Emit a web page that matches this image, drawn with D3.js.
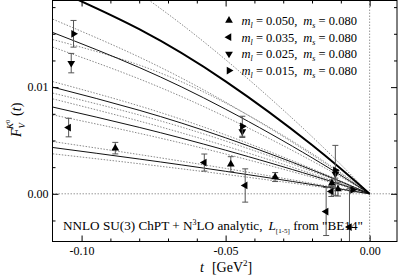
<!DOCTYPE html>
<html>
<head>
<meta charset="utf-8">
<script src="https://cdn.jsdelivr.net/npm/d3@7"></script>
<style>
  body { margin: 0; background: #fff; }
  svg { display: block; font-family: "Liberation Serif", "Times New Roman", serif; }
</style>
</head>
<body>
<svg id="chart" width="399" height="275"></svg>
<script>
const tGrid = [-0.11, -0.08, -0.05, -0.02, 0];

// physical point (thick) with its band
const physMid = [0.01925, 0.01543, 0.01054, 0.00457, 0];
const physHi  = [0.02404, 0.01879, 0.01257, 0.00536, 0];
const physLo  = [0.01446, 0.01207, 0.00851, 0.00378, 0];

// m_l = 0.015
const fit015Mid = [0.01512, 0.01184, 0.00793, 0.00338, 0];
const fit015Hi  = [0.01637, 0.01282, 0.00859, 0.00366, 0];
const fit015Lo  = [0.01375, 0.01077, 0.00721, 0.00308, 0];
// m_l = 0.025
const fit025Mid = [0.01000, 0.00783, 0.00525, 0.00224, 0];
const fit025Hi  = [0.01052, 0.00824, 0.00552, 0.00235, 0];
const fit025Lo  = [0.00944, 0.00739, 0.00495, 0.00211, 0];
// m_l = 0.035
const fit035Mid = [0.00813, 0.00623, 0.00409, 0.00172, 0];
const fit035Hi  = [0.00890, 0.00682, 0.00448, 0.00188, 0];
const fit035Lo  = [0.00740, 0.00567, 0.00373, 0.00156, 0];
// m_l = 0.050
const fit050Mid = [0.00434, 0.00326, 0.00211, 0.00087, 0];
const fit050Hi  = [0.00490, 0.00368, 0.00238, 0.00098, 0];
const fit050Lo  = [0.00375, 0.00282, 0.00182, 0.00075, 0];

// lattice data: t, F, error
const t050 = [-0.0883, -0.0482, -0.0328, -0.0131, -0.0110];
const f050 = [0.00428, 0.00278, 0.00157, 0.00100, 0.00044];
const e050 = [0.00054, 0.00070, 0.00042, 0.00030, 0.00065];

const t035 = [-0.1045, -0.0574, -0.0432, -0.0151, -0.0133, -0.0070];
const f035 = [0.00621, 0.00293, 0.00078, -0.00166, 0.00022, -0.00312];
const e035 = [0.00087, 0.00080, 0.00156, 0.00225, 0.00047, 0.00360];

const t025 = [-0.1036, -0.0442, -0.0119];
const f025 = [0.01225, 0.00584, 0.00187];
const e025 = [0.00091, 0.00056, 0.00040];

const t015 = [-0.1028, -0.0442, -0.0119, -0.0059];
const f015 = [0.01500, 0.00633, 0.00220, 0.00038];
const e015 = [0.00125, 0.00094, 0.00234, 0.00020];

const legendLabels = ["0.050", "0.035", "0.025", "0.015"];
const msLabel = "0.080";

const xMajor = [-0.10, -0.05, 0.00];
const xMinor = [-0.09, -0.08, -0.07, -0.06, -0.04, -0.03, -0.02, -0.01];
const yMajor = [0.00, 0.01];
const yMinor = [-0.0025, 0.0025, 0.005, 0.0075, 0.0125, 0.015, 0.0175];

var pL = 52.5, pR = 397, pT = 0.5, pB = 241.5;

var svg = d3.select("#chart");

var x = d3.scaleLinear().domain([-0.1101, 0.0095]).range([pL, pR]);
var y = d3.scaleLinear().domain([-0.00447, 0.01812]).range([pB, pT]);

svg.append("clipPath").attr("id", "clip")
  .append("rect")
  .attr("x", pL).attr("y", pT)
  .attr("width", pR - pL).attr("height", pB - pT);

var plot = svg.append("g").attr("clip-path", "url(#clip)");

// zero lines
plot.append("line")
  .attr("x1", pL).attr("x2", pR)
  .attr("y1", y(0)).attr("y2", y(0))
  .attr("stroke", "#999").attr("stroke-dasharray", "1.5,1.5");
plot.append("line")
  .attr("x1", x(0)).attr("x2", x(0))
  .attr("y1", pT).attr("y2", pB)
  .attr("stroke", "#999").attr("stroke-dasharray", "1.5,1.5");

var line = d3.line()
  .curve(d3.curveNatural)
  .x(function (d) { return x(d[0]); })
  .y(function (d) { return y(d[1]); });

function pts(vals) { return tGrid.map(function (t, i) { return [t, vals[i]]; }); }

var dotted = [physHi, physLo, fit015Hi, fit015Lo, fit025Hi, fit025Lo,
              fit035Hi, fit035Lo, fit050Hi, fit050Lo];
var solid = [fit015Mid, fit025Mid, fit035Mid, fit050Mid];

dotted.forEach(function (v) {
  plot.append("path").datum(pts(v))
    .attr("fill", "none").attr("stroke", "#8a8a8a")
    .attr("stroke-width", 1).attr("stroke-dasharray", "1.5,1.5")
    .attr("d", line);
});
solid.forEach(function (v) {
  plot.append("path").datum(pts(v))
    .attr("fill", "none").attr("stroke", "#111")
    .attr("stroke-width", 1).attr("d", line);
});
plot.append("path").datum(pts(physMid))
  .attr("fill", "none").attr("stroke", "#000")
  .attr("stroke-width", 2).attr("d", line);

// data with error bars
var series = [
  { t: t050, f: f050, e: e050, rot: 0 },
  { t: t035, f: f035, e: e035, rot: -90 },
  { t: t025, f: f025, e: e025, rot: 180 },
  { t: t015, f: f015, e: e015, rot: 90 }
];
var sym = d3.symbol().type(d3.symbolTriangle).size(26);

series.forEach(function (s) {
  var data = s.t.map(function (t, i) { return { t: t, f: s.f[i], e: s.e[i] }; });
  var g = plot.append("g");
  var eb = g.selectAll(".eb").data(data).enter().append("g")
    .attr("stroke", "#555").attr("stroke-width", 1);
  eb.append("line")
    .attr("x1", function (d) { return x(d.t); }).attr("x2", function (d) { return x(d.t); })
    .attr("y1", function (d) { return y(d.f + d.e); }).attr("y2", function (d) { return y(d.f - d.e); });
  eb.append("line")
    .attr("x1", function (d) { return x(d.t) - 3; }).attr("x2", function (d) { return x(d.t) + 3; })
    .attr("y1", function (d) { return y(d.f + d.e); }).attr("y2", function (d) { return y(d.f + d.e); });
  eb.append("line")
    .attr("x1", function (d) { return x(d.t) - 3; }).attr("x2", function (d) { return x(d.t) + 3; })
    .attr("y1", function (d) { return y(d.f - d.e); }).attr("y2", function (d) { return y(d.f - d.e); });
  g.selectAll(".pt").data(data).enter().append("path")
    .attr("d", sym)
    .attr("fill", "#000")
    .attr("transform", function (d) {
      return "translate(" + x(d.t) + "," + y(d.f) + ") rotate(" + s.rot + ")";
    });
});

// axes, ticks pointing inward on all four sides
function styleAxis(g) {
  g.select(".domain").remove();
  g.attr("font-family", null).attr("font-size", 12);
}
svg.append("g").attr("transform", "translate(0," + pB + ")")
  .call(d3.axisBottom(x).tickValues(xMajor).tickSize(-6).tickPadding(5)
    .tickFormat(function (d) { return d.toFixed(2); }))
  .call(styleAxis);
svg.append("g").attr("transform", "translate(0," + pB + ")")
  .call(d3.axisBottom(x).tickValues(xMinor).tickSize(-3).tickFormat(""))
  .call(styleAxis);
svg.append("g").attr("transform", "translate(0," + pT + ")")
  .call(d3.axisTop(x).tickValues(xMajor).tickSize(-6).tickFormat(""))
  .call(styleAxis);
svg.append("g").attr("transform", "translate(0," + pT + ")")
  .call(d3.axisTop(x).tickValues(xMinor).tickSize(-3).tickFormat(""))
  .call(styleAxis);
svg.append("g").attr("transform", "translate(" + pL + ",0)")
  .call(d3.axisLeft(y).tickValues(yMajor).tickSize(-6).tickPadding(4)
    .tickFormat(function (d) { return d.toFixed(2); }))
  .call(styleAxis);
svg.append("g").attr("transform", "translate(" + pL + ",0)")
  .call(d3.axisLeft(y).tickValues(yMinor).tickSize(-3).tickFormat(""))
  .call(styleAxis);
svg.append("g").attr("transform", "translate(" + pR + ",0)")
  .call(d3.axisRight(y).tickValues(yMajor).tickSize(-6).tickFormat(""))
  .call(styleAxis);
svg.append("g").attr("transform", "translate(" + pR + ",0)")
  .call(d3.axisRight(y).tickValues(yMinor).tickSize(-3).tickFormat(""))
  .call(styleAxis);

// frame
svg.append("rect")
  .attr("x", pL).attr("y", pT)
  .attr("width", pR - pL).attr("height", pB - pT)
  .attr("fill", "none").attr("stroke", "#000").attr("stroke-width", 1);

// legend
var rots = [0, -90, 180, 90];
legendLabels.forEach(function (lab, i) {
  var ly = 20.5 + i * 16.7;
  svg.append("path").attr("d", sym).attr("fill", "#000")
    .attr("transform", "translate(229," + ly + ") rotate(" + rots[i] + ")");
  var tx = svg.append("text").attr("x", 241.5).attr("y", ly + 4.5).attr("font-size", 12.5);
  tx.append("tspan").attr("font-style", "italic").text("m");
  tx.append("tspan").attr("font-style", "italic").attr("font-size", 8).attr("dy", 3).text("l");
  tx.append("tspan").attr("dy", -3).text(" = " + lab + ",");
  tx.append("tspan").attr("dx", 6).attr("font-style", "italic").text("m");
  tx.append("tspan").attr("font-style", "italic").attr("font-size", 8).attr("dy", 3).text("s");
  tx.append("tspan").attr("dy", -3).text(" = " + msLabel);
});

// annotation
var ann = svg.append("text").attr("x", 63).attr("y", 230).attr("font-size", 13.2);
ann.append("tspan").text("NNLO SU(3) ChPT + N");
ann.append("tspan").attr("font-size", 8).attr("dy", -5).text("3");
ann.append("tspan").attr("dy", 5).text("LO analytic,");
ann.append("tspan").attr("dx", 6).attr("font-style", "italic").text("L");
ann.append("tspan").attr("font-size", 7).attr("dy", 3).text("[1-5]");
ann.append("tspan").attr("dy", -3).text(" from \"BE14\"");

// x title
var xt = svg.append("text").attr("x", 200).attr("y", 272).attr("font-size", 14);
xt.append("tspan").attr("font-style", "italic").text("t");
xt.append("tspan").attr("dx", 8).text("[GeV");
xt.append("tspan").attr("font-size", 9).attr("dy", -6).text("2");
xt.append("tspan").attr("dy", 6).text("]");

// y title (rotated)
var yt = svg.append("text").attr("transform", "translate(21,137) rotate(-90)").attr("font-size", 14);
yt.append("tspan").attr("font-style", "italic").text("F");
yt.append("tspan").attr("font-style", "italic").attr("font-size", 9).attr("dy", 3.5).text("V");
yt.append("tspan").attr("font-style", "italic").attr("font-size", 9).attr("dx", -6).attr("dy", -12).text("K");
yt.append("tspan").attr("font-size", 6).attr("dy", -3).text("0");
yt.append("tspan").attr("dx", 4).attr("dy", 11.5).text("(");
yt.append("tspan").attr("font-style", "italic").text("t");
yt.append("tspan").text(")");
</script>
</body>
</html>
